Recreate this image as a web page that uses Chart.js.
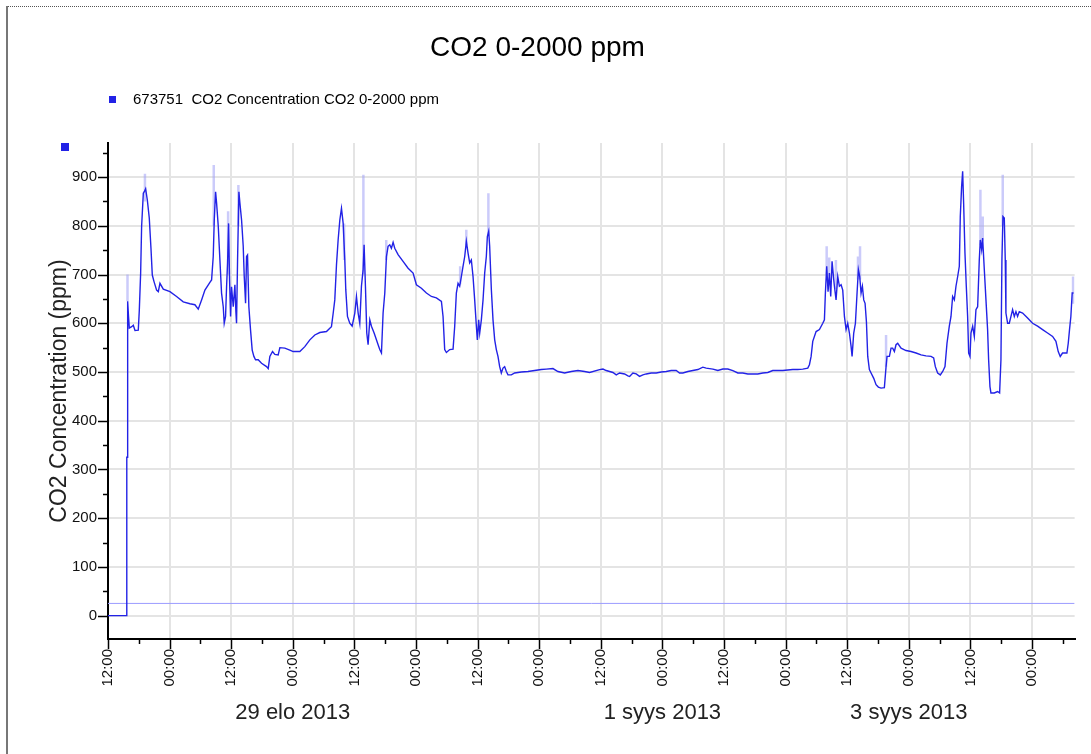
<!DOCTYPE html>
<html>
<head>
<meta charset="utf-8">
<title>CO2 0-2000 ppm</title>
<script src="https://cdn.jsdelivr.net/npm/chart.js@4/dist/chart.umd.min.js"></script>
<style>
  body { margin: 0; background: #fff; }
  canvas { display: block; }
</style>
</head>
<body>
<canvas id="co2" width="1091" height="754"></canvas>
<script>
// hours since 27 elo 2013 12:00, and the CO2 reading (ppm)
const co2Hours = [
  0, 3.64, 3.66, 3.78, 3.83, 4.0, 4.15, 4.61, 4.93, 5.26, 5.9, 6.1, 6.36, 6.55, 6.88, 7.07, 7.33, 7.66, 8.04, 8.37,
  8.63, 8.95, 9.47, 9.8, 10.12, 10.77, 12.07, 13.36, 14.66, 15.96, 16.93, 17.58, 18.23, 18.88, 19.85, 20.18, 20.5, 20.7, 20.96, 21.15,
  21.48, 21.8, 22.12, 22.45, 22.64, 22.9, 23.1, 23.29, 23.49, 23.68, 23.88, 24.07, 24.4, 24.72, 24.91, 25.04, 25.24, 25.5, 25.69, 26.02,
  26.34, 26.54, 26.8, 26.99, 27.18, 27.44, 27.77, 28.09, 28.42, 28.74, 29.26, 29.91, 30.88, 31.21, 31.53, 32.05, 32.5, 33.15, 33.48, 34.45,
  35.42, 36.07, 37.37, 38.34, 39.32, 40.29, 41.26, 42.56, 43.21, 43.53, 43.86, 44.18, 44.51, 44.83, 45.16, 45.48, 45.81, 46.13,
  46.32, 46.65, 47.1, 47.56, 48.08, 48.4, 48.73, 49.05, 49.37, 49.7, 49.89, 50.15, 50.41, 50.67, 51.0, 51.32, 51.84, 52.29, 52.62, 52.94,
  53.27, 53.59, 53.92, 54.24, 54.56, 54.89, 55.21, 55.54, 55.86, 56.51, 57.48, 58.46, 59.43, 60.08, 61.05, 62.03, 63.0, 63.97, 64.95, 65.27,
  65.59, 65.92, 66.57, 67.22, 67.54, 67.86, 68.19, 68.51, 68.84, 69.16, 69.49, 69.81, 70.14, 70.46, 70.78, 71.11, 71.43, 71.76, 71.95, 72.21,
  72.41, 72.73, 73.06, 73.38, 73.7, 73.9, 74.16, 74.35, 74.68, 75.0, 75.33, 75.65, 75.97, 76.3, 76.62, 76.95, 77.27, 77.6, 77.92, 78.57,
  79.22, 80.52, 81.81, 83.11, 84.41, 85.38, 86.68, 87.65, 88.95, 90.25, 91.55, 92.84, 93.82,
  95.77, 96.42, 97.06, 98.36, 99.01, 99.66, 100.63, 101.28, 101.61, 102.25, 102.9, 103.55, 104.2, 104.85, 105.82, 106.8, 107.77, 108.74, 109.72, 110.69,
  111.34, 111.99, 112.96, 113.93, 114.91, 115.88, 116.53, 117.83, 118.8, 119.77, 120.75, 121.72, 122.69, 123.66, 124.64, 125.61, 126.58, 127.56, 128.53, 129.5,
  130.48, 131.45, 132.42, 133.4, 134.37, 135.34, 136.32, 136.64, 136.97, 137.29, 137.94, 138.59, 139.24, 139.56, 139.75, 140.01, 140.27, 140.53, 140.79, 141.05,
  141.38, 141.51, 141.83, 142.16, 142.48, 142.81, 143.13, 143.46, 143.78, 144.1, 144.43, 144.75, 144.95, 145.27, 145.6, 145.92, 146.18, 146.44, 146.7, 146.96,
  147.22, 147.48, 147.74, 148.0, 148.32, 148.65, 149.17, 149.62, 150.07, 150.59, 151.24, 151.57, 151.76, 152.22, 152.54, 152.86, 153.19, 153.51, 153.84, 154.49,
  155.46, 156.43, 157.41, 158.38, 159.35, 160.33, 160.84, 161.17, 161.62, 162.14, 162.6, 163.05, 163.44, 163.89, 164.22, 164.54, 164.87, 165.19, 165.52, 165.84,
  166.03, 166.29, 166.49, 166.68, 166.94, 167.2, 167.46, 167.66, 167.92, 168.11, 168.44, 168.76, 169.08, 169.41, 169.73, 169.93, 170.19, 170.38, 170.71, 171.03,
  171.35, 171.55, 171.81, 172.0, 172.65, 173.3, 173.69, 173.95, 174.14, 174.34, 174.6, 174.79, 174.92, 175.25, 175.57, 175.9, 176.22, 176.55, 176.87, 177.19,
  177.52, 178.17, 179.14, 180.11, 181.09, 182.06, 183.03, 184.01, 184.66, 185.11, 185.5, 185.95, 186.8, 187.06, 187.31, 187.57, 187.83, 188.09
];
const co2Values = [
  0, 0, 325, 325, 645, 614, 590, 593, 596, 585, 586, 627, 703, 799, 867, 870, 876, 853, 816, 754,
  699, 686, 668, 665, 682, 670, 665, 655, 644, 640, 638, 629, 648, 668, 684, 689, 737, 812, 870, 847,
  799, 730, 662, 634, 600, 614, 675, 723, 805, 689, 614, 675, 634, 679, 624, 600, 730, 870, 847, 812,
  758, 696, 641, 737, 740, 634, 586, 545, 532, 525, 525, 518, 511, 507, 532, 542, 536, 535, 550, 549,
  545, 542, 542, 552, 566, 576, 581, 583, 590, 593, 620, 648, 720, 771, 812, 836, 805, 730,
  669, 614, 600, 594, 621, 655, 621, 600, 676, 710, 761, 676, 580, 556, 607, 594, 580, 566, 556, 546,
  539, 621, 662, 737, 758, 761, 754, 766, 754, 741, 727, 713, 703, 679, 672, 662, 655, 652, 645, 614,
  546, 540, 546, 547, 594, 662, 682, 676, 696, 717, 737, 768, 744, 724, 730, 696, 648, 594, 566, 607,
  580, 607, 648, 703, 737, 778, 789, 758, 669, 607, 566, 546, 532, 511, 498, 508, 511, 501, 494, 494,
  498, 500, 501, 503, 505, 506, 507, 501, 498, 501, 503, 501, 499,
  505, 506, 503, 499, 494, 498, 496, 492, 491, 498, 496, 491, 494, 496, 498, 498, 500, 501, 503, 503,
  498, 498, 501, 503, 505, 510, 508, 506, 503, 506, 506, 503, 498, 498, 496, 496, 496, 498, 499, 503,
  503, 503, 504, 505, 505, 506, 508, 515, 532, 563, 583, 587, 600, 607, 662, 717, 665, 703, 655, 727,
  689, 676, 648, 696, 676, 679, 668, 614, 587, 600, 580, 553, 532, 580, 600, 662, 710, 696, 662, 676,
  648, 641, 604, 532, 505, 498, 487, 474, 469, 467, 468, 511, 532, 532, 549, 549, 542, 556, 559, 549,
  544, 542, 539, 535, 533, 532, 529, 511, 498, 494, 501, 511, 559, 594, 614, 655, 648, 676, 696, 717,
  819, 881, 912, 847, 744, 676, 614, 539, 532, 580, 594, 573, 628, 634, 730, 771, 751, 775, 710, 648,
  587, 525, 470, 457, 457, 460, 457, 525, 730, 819, 816, 730, 621, 600, 600, 614, 628, 614, 624, 614,
  624, 621, 611, 600, 594, 587, 580, 573, 563, 542, 532, 539, 539, 559, 587, 614, 662, 662
];

// short max readings that show as pale spikes behind the line
const peakHours = [3.8, 7.2, 20.6, 23.4, 25.4, 46.0, 49.75, 54.2, 68.6, 69.8, 74.1, 140.0, 140.5, 141.8, 146.1, 146.5, 151.57, 169.95, 170.4, 174.3, 188.0];
const peakLow   = [645, 850, 800, 700, 800, 730, 700, 730, 680, 760, 780, 700, 700, 670, 690, 690, 511, 760, 770, 800, 640];
const peakHigh  = [700, 907, 925, 830, 884, 805, 905, 771, 717, 792, 867, 758, 735, 730, 737, 758, 576, 874, 819, 905, 696];

// constant reference line
const refHours = [0, 188.3];
const refValues = [25, 25];

const xMax = 188.3;
const yMin = -48;
const yMax = 970;

const hourLabels = ["12:00", "00:00"];
const dateHours = [36, 108, 156];
const dateLabels = ["29 elo 2013", "1 syys 2013", "3 syys 2013"];

const seriesLabel = "673751  CO2 Concentration CO2 0-2000 ppm";
const lineBlue = "#2222e6";
const font = "'Liberation Sans', Arial, sans-serif";

const mainPoints = co2Hours.map((h, i) => ({ x: h, y: co2Values[i] }));
const peakPoints = [];
peakHours.forEach((h, i) => {
  peakPoints.push({ x: h, y: peakLow[i] }, { x: h, y: peakHigh[i] }, { x: h, y: null });
});
const refPoints = refHours.map((h, i) => ({ x: h, y: refValues[i] }));

// frame, small marker, legend and tick marks
const decorations = {
  id: "decorations",
  beforeDraw(chart) {
    const ctx = chart.ctx;
    ctx.save();
    ctx.fillStyle = "#fff";
    ctx.fillRect(0, 0, chart.width, chart.height);
    ctx.strokeStyle = "#555";
    ctx.lineWidth = 1;
    ctx.setLineDash([1, 1]);
    ctx.beginPath();
    ctx.moveTo(6, 6.5);
    ctx.lineTo(chart.width, 6.5);
    ctx.stroke();
    ctx.setLineDash([]);
    ctx.strokeStyle = "#777";
    ctx.lineWidth = 2;
    ctx.beginPath();
    ctx.moveTo(7, 6);
    ctx.lineTo(7, chart.height);
    ctx.stroke();
    ctx.restore();
  },
  afterDraw(chart) {
    const { ctx, chartArea, scales } = chart;
    const x = scales.x;
    const y = scales.y;
    ctx.save();

    // legend
    ctx.fillStyle = lineBlue;
    ctx.fillRect(109, 96, 7, 7);
    ctx.fillStyle = "#000";
    ctx.font = "15px " + font;
    ctx.textBaseline = "middle";
    ctx.textAlign = "left";
    ctx.fillText(chart.data.datasets[0].label, 133, 100);

    // marker at the top of the value axis
    ctx.fillStyle = lineBlue;
    ctx.fillRect(61, 143, 8, 8);

    // tick marks
    ctx.strokeStyle = "#000";
    ctx.lineWidth = 1.5;
    x.ticks.forEach((t) => {
      const px = Math.round(x.getPixelForValue(t.value)) + 0.5;
      const len = t.value % 12 === 0 ? 10 : 5;
      ctx.beginPath();
      ctx.moveTo(px, chartArea.bottom);
      ctx.lineTo(px, chartArea.bottom + len);
      ctx.stroke();
    });
    y.ticks.forEach((t) => {
      const py = Math.round(y.getPixelForValue(t.value)) + 0.5;
      const len = t.value % 100 === 0 ? 10 : 5;
      ctx.beginPath();
      ctx.moveTo(chartArea.left - len, py);
      ctx.lineTo(chartArea.left, py);
      ctx.stroke();
    });
    ctx.restore();
  },
};

new Chart("co2", {
  type: "line",
  data: {
    datasets: [
      {
        label: seriesLabel,
        data: mainPoints,
        borderColor: lineBlue,
        borderWidth: 1.4,
        pointRadius: 0,
        tension: 0,
      },
      {
        label: "max",
        data: peakPoints,
        borderColor: "rgba(160, 160, 245, 0.55)",
        borderWidth: 2.5,
        pointRadius: 0,
        spanGaps: false,
      },
      {
        label: "ref",
        data: refPoints,
        borderColor: "#9c9cff",
        borderWidth: 1,
        pointRadius: 0,
      },
    ],
  },
  options: {
    responsive: false,
    animation: false,
    devicePixelRatio: 1,
    layout: { padding: { left: 0, right: 16, top: 0, bottom: 0 } },
    plugins: {
      legend: { display: false },
      tooltip: { enabled: false },
      title: {
        display: true,
        text: "CO2 0-2000 ppm",
        color: "#000",
        font: { family: font, size: 28, weight: "normal" },
        padding: { top: 31, bottom: 78.4 },
      },
    },
    scales: {
      x: {
        type: "linear",
        position: "bottom",
        min: 0,
        max: xMax,
        afterFit: (scale) => { scale.height = 50; },
        ticks: {
          stepSize: 6,
          includeBounds: false,
          autoSkip: false,
          minRotation: 90,
          maxRotation: 90,
          padding: 10,
          color: "#111",
          font: { family: font, size: 15 },
          callback: (v) => (v % 12 === 0 ? hourLabels[(v / 12) % 2] : ""),
        },
        grid: {
          drawTicks: false,
          lineWidth: 2,
          color: (c) => (c.tick && c.tick.value % 12 === 0 ? "#e4e4e4" : "rgba(0,0,0,0)"),
        },
        border: { color: "#000", width: 2 },
      },
      y: {
        type: "linear",
        min: yMin,
        max: yMax,
        afterFit: (scale) => { scale.width = 108; },
        ticks: {
          stepSize: 50,
          includeBounds: false,
          padding: 11,
          color: "#111",
          font: { family: font, size: 15 },
          callback: (v) => (v % 100 === 0 ? String(v) : ""),
        },
        grid: {
          drawTicks: false,
          lineWidth: 2,
          color: (c) => (c.tick && c.tick.value % 100 === 0 ? "#e4e4e4" : "rgba(0,0,0,0)"),
        },
        border: { color: "#000", width: 2 },
        title: {
          display: true,
          text: "CO2 Concentration (ppm)",
          color: "#222",
          font: { family: font, size: 23 },
          padding: { top: 46, bottom: 0 },
        },
      },
      x2: {
        type: "linear",
        position: "bottom",
        min: 0,
        max: xMax,
        afterBuildTicks: (scale) => { scale.ticks = dateHours.map((h) => ({ value: h })); },
        afterFit: (scale) => { scale.height = 65; },
        ticks: {
          autoSkip: false,
          maxRotation: 0,
          padding: 3,
          color: "#222",
          font: { family: font, size: 22 },
          callback: (v) => dateLabels[dateHours.indexOf(v)],
        },
        grid: { display: false },
        border: { display: false },
      },
    },
  },
  plugins: [decorations],
});
</script>
</body>
</html>
